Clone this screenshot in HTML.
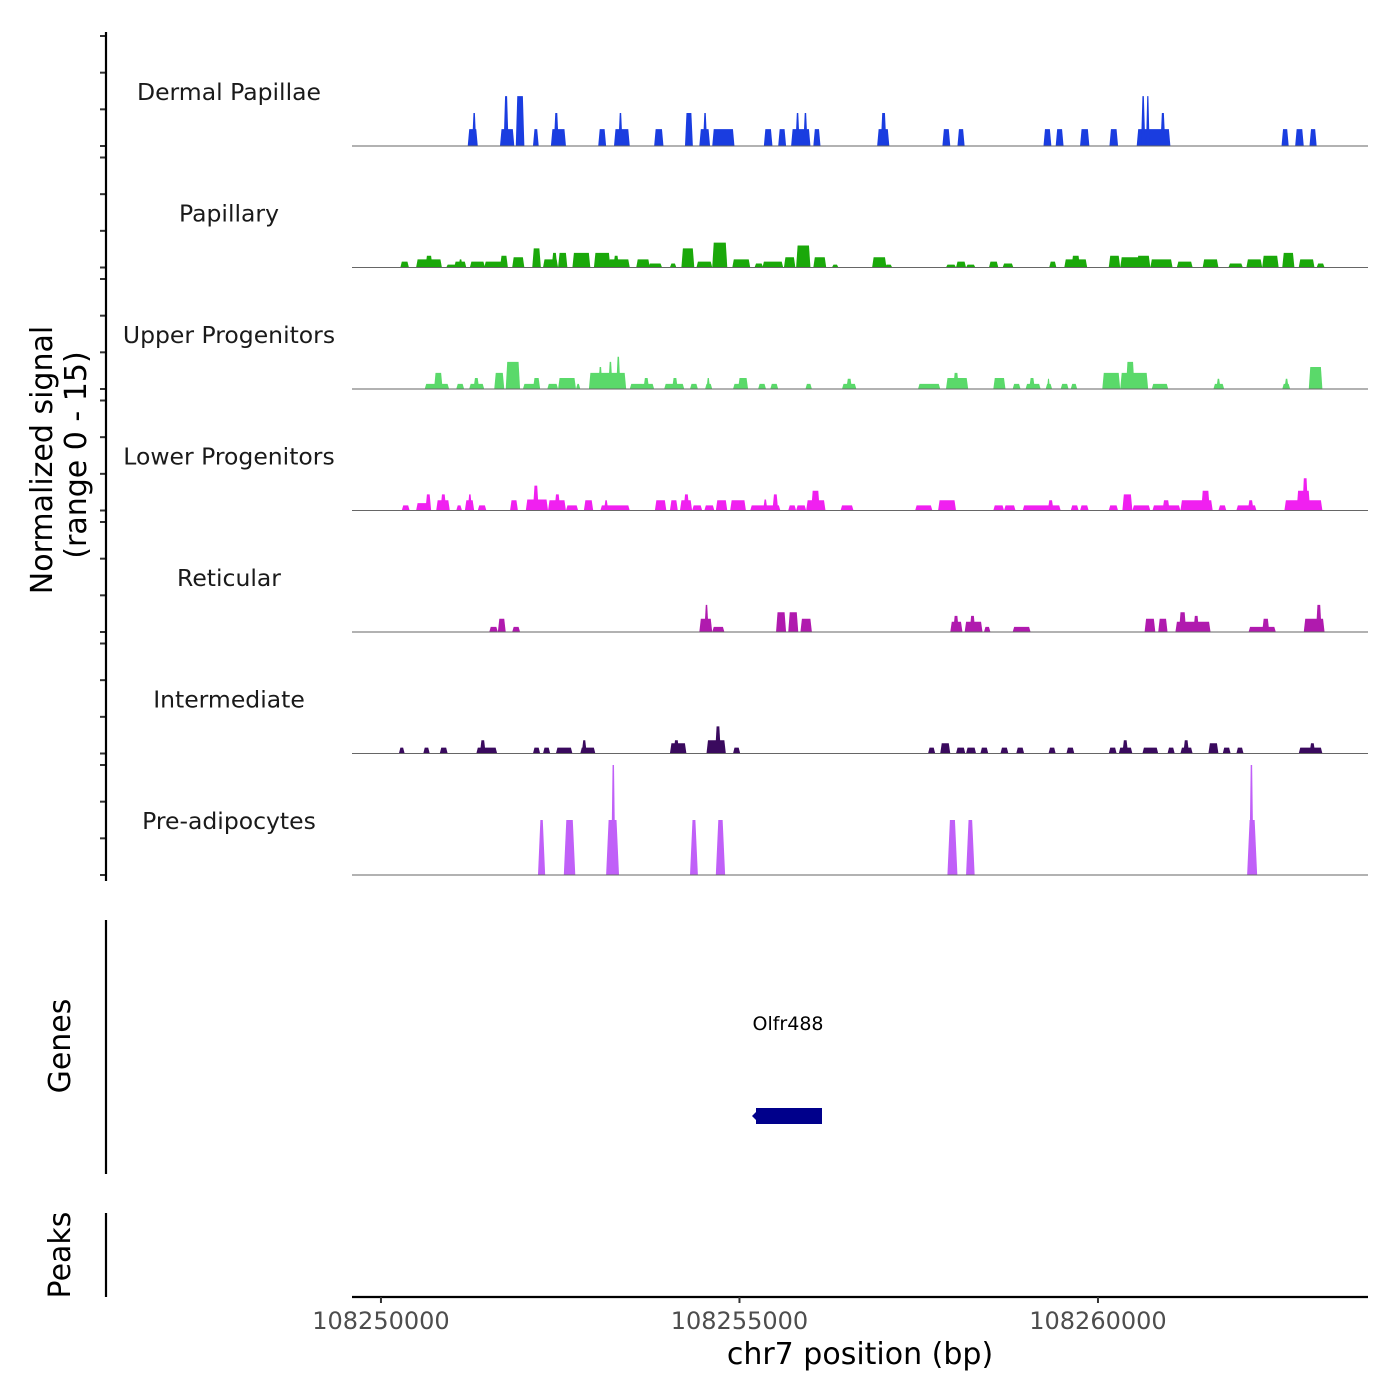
<!DOCTYPE html>
<html><head><meta charset="utf-8"><style>
body{margin:0;background:#fff}
svg{display:block;font-family:"DejaVu Sans","Liberation Sans",sans-serif}
</style></head><body>
<svg id="chart" width="1400" height="1400" viewBox="0 0 1400 1400" xmlns="http://www.w3.org/2000/svg">
<g id="tracks"></g>
<g id="axes"></g>
<text transform="translate(52,460) rotate(-90)" text-anchor="middle" font-size="30" fill="#000">Normalized signal</text>
<text transform="translate(86,455) rotate(-90)" text-anchor="middle" font-size="30" fill="#000">(range 0 - 15)</text>
<line x1="106" y1="920" x2="106" y2="1174" stroke="#000" stroke-width="2.2"/>
<text transform="translate(70,1046) rotate(-90)" text-anchor="middle" font-size="30" fill="#000">Genes</text>
<text x="788" y="1030" text-anchor="middle" font-size="19" fill="#000">Olfr488</text>
<rect x="756" y="1108" width="66" height="16" fill="#00008B"/>
<polygon points="752,1116 757,1111 757,1121" fill="#00008B"/>
<line x1="106" y1="1213" x2="106" y2="1297" stroke="#000" stroke-width="2.2"/>
<text transform="translate(70,1255) rotate(-90)" text-anchor="middle" font-size="30" fill="#000">Peaks</text>
<text x="860" y="1364" text-anchor="middle" font-size="30" fill="#000">chr7 position (bp)</text>
</svg>
<script>
const base = 108250000;
const xDomainKb = [-0.404, 13.766];
const yMax = 15;
const trackNames = ["Dermal Papillae","Papillary","Upper Progenitors","Lower Progenitors","Reticular","Intermediate","Pre-adipocytes"];
const trackColors = ["#1a3de0","#1aa80a","#5ad96a","#f020f0","#b01aae","#3a0a5e","#c060f8"];
const xTicks = [108250000,108255000,108260000];
const yTicks = [0,5,10,15];
// peaks: [startKb, endKb, value]
const dermal = [[1.21,1.35,2.3],[1.27,1.33,4.5],[1.66,1.86,2.3],[1.71,1.78,6.8],[1.88,2.00,6.8],[2.12,2.20,2.3],[2.37,2.58,2.3],[2.41,2.48,4.5],[3.03,3.14,2.3],[3.25,3.47,2.3],[3.31,3.37,4.5],[3.81,3.94,2.3],[4.24,4.35,4.5],[4.44,4.59,2.3],[4.49,4.55,4.5],[4.62,4.93,2.3],[5.34,5.46,2.3],[5.54,5.65,2.3],[5.72,5.99,2.3],[5.78,5.84,4.5],[5.89,5.95,4.5],[6.03,6.13,2.3],[6.92,7.09,2.3],[6.97,7.05,4.5],[7.83,7.94,2.3],[8.04,8.14,2.3],[9.24,9.35,2.3],[9.41,9.52,2.3],[9.75,9.88,2.3],[10.16,10.28,2.3],[10.54,11.01,2.3],[10.60,10.66,6.8],[10.67,10.72,6.8],[10.87,10.94,4.5],[12.56,12.66,2.3],[12.75,12.87,2.3],[12.95,13.05,2.3]];
const papillary = [[0.27,0.39,0.8],[0.49,0.85,1.1],[0.62,0.72,1.6],[0.91,1.07,0.4],[1.02,1.19,0.8],[1.08,1.14,1.1],[1.24,1.45,0.8],[1.44,1.76,0.8],[1.66,1.77,1.6],[1.83,2.00,1.4],[2.11,2.23,2.6],[2.26,2.47,1.1],[2.38,2.46,2.0],[2.47,2.60,2.0],[2.67,2.92,2.0],[2.97,3.20,2.0],[3.17,3.47,1.1],[3.24,3.32,1.6],[3.56,3.75,1.1],[3.73,3.92,0.55],[4.03,4.12,0.55],[4.19,4.37,2.6],[4.40,4.62,0.8],[4.62,4.83,3.4],[4.90,5.15,1.1],[5.21,5.33,0.55],[5.32,5.61,0.8],[5.62,5.78,1.4],[5.79,5.99,3.0],[6.03,6.21,1.4],[6.29,6.38,0.4],[6.85,7.05,1.4],[7.03,7.13,0.4],[7.88,8.02,0.4],[8.02,8.16,0.8],[8.16,8.29,0.4],[8.48,8.61,0.8],[8.67,8.82,0.55],[9.32,9.42,0.8],[9.53,9.85,1.1],[9.63,9.75,1.6],[10.15,10.31,1.6],[10.31,10.62,1.4],[10.54,10.73,1.6],[10.73,11.04,1.1],[11.10,11.32,0.8],[11.46,11.68,1.1],[11.82,12.02,0.55],[12.07,12.29,1.1],[12.29,12.52,1.6],[12.57,12.74,2.0],[12.80,13.02,1.1],[13.05,13.16,0.55]];
const upper = [[0.61,0.95,0.7],[0.74,0.86,2.2],[1.05,1.16,0.7],[1.23,1.44,0.7],[1.29,1.37,1.5],[1.58,1.72,2.2],[1.74,1.94,3.7],[1.98,2.22,0.7],[2.12,2.22,1.5],[2.32,2.47,0.7],[2.47,2.72,1.5],[2.72,2.78,0.7],[2.90,3.42,2.2],[3.03,3.09,3.0],[3.17,3.23,3.7],[3.28,3.34,4.4],[3.47,3.67,0.7],[3.63,3.81,0.7],[3.66,3.74,1.5],[3.95,4.23,0.7],[4.06,4.14,1.5],[4.31,4.42,0.7],[4.52,4.62,0.7],[4.54,4.59,1.5],[4.91,5.05,0.7],[4.98,5.12,1.5],[5.26,5.37,0.7],[5.43,5.54,0.7],[5.92,6.01,0.7],[6.43,6.63,0.7],[6.49,6.57,1.4],[7.49,7.80,0.7],[7.88,8.19,1.5],[7.98,8.06,2.2],[8.54,8.71,1.5],[8.81,8.92,0.7],[8.99,9.20,0.7],[9.04,9.12,1.5],[9.27,9.36,0.7],[9.29,9.33,1.4],[9.48,9.59,0.7],[9.62,9.71,0.7],[10.06,10.31,2.2],[10.31,10.70,2.2],[10.39,10.51,3.7],[10.75,10.98,0.7],[11.61,11.76,0.7],[11.65,11.71,1.4],[12.57,12.68,0.7],[12.60,12.66,1.4],[12.94,13.13,3.0]];
const lower = [[0.29,0.40,0.7],[0.49,0.68,1.0],[0.62,0.70,2.2],[0.77,0.96,1.4],[0.83,0.91,2.2],[1.05,1.13,0.7],[1.17,1.30,1.4],[1.21,1.27,2.2],[1.35,1.47,0.7],[1.80,1.91,1.4],[2.02,2.33,1.5],[2.12,2.20,3.4],[2.33,2.58,1.4],[2.42,2.50,2.2],[2.58,2.75,0.7],[2.83,2.96,1.4],[3.06,3.47,0.7],[3.11,3.17,1.4],[3.82,3.98,1.4],[4.03,4.14,1.4],[4.17,4.34,1.4],[4.22,4.30,2.2],[4.34,4.48,0.7],[4.51,4.65,0.7],[4.67,4.83,1.4],[4.87,5.09,1.4],[5.15,5.57,0.7],[5.33,5.39,1.5],[5.46,5.54,2.2],[5.68,5.79,0.7],[5.79,5.93,0.7],[5.93,6.20,1.4],[6.00,6.12,2.7],[6.41,6.59,0.7],[7.45,7.69,0.7],[7.77,8.02,1.4],[8.54,8.69,0.7],[8.69,8.85,0.7],[8.95,9.48,0.7],[9.30,9.38,1.4],[9.62,9.73,0.7],[9.75,9.87,0.7],[10.15,10.28,0.7],[10.34,10.48,2.2],[10.48,10.73,0.7],[10.76,11.15,0.7],[10.90,11.00,1.4],[11.15,11.60,1.4],[11.44,11.56,2.7],[11.68,11.79,0.7],[11.93,12.21,0.7],[12.09,12.17,1.4],[12.60,13.13,1.4],[12.77,12.96,2.7],[12.85,12.93,4.4]];
const reticular = [[1.51,1.63,0.7],[1.63,1.74,1.8],[1.83,1.94,0.7],[4.44,4.62,1.8],[4.51,4.57,3.7],[4.62,4.79,0.7],[5.51,5.65,2.7],[5.68,5.82,2.7],[5.85,6.01,1.8],[7.94,8.11,1.4],[7.98,8.06,2.2],[8.14,8.39,1.4],[8.21,8.29,2.2],[8.41,8.50,0.7],[8.81,9.06,0.7],[10.65,10.80,1.8],[10.84,10.97,1.8],[11.08,11.57,1.4],[11.13,11.23,2.7],[11.33,11.41,2.2],[12.10,12.48,0.7],[12.29,12.39,1.8],[12.87,13.16,1.8],[13.04,13.12,3.7]];
const intermediate = [[0.25,0.33,0.8],[0.59,0.68,0.8],[0.82,0.93,0.8],[1.33,1.62,0.8],[1.38,1.46,1.8],[2.12,2.22,0.8],[2.26,2.36,0.8],[2.44,2.67,0.8],[2.78,2.99,0.8],[2.80,2.87,1.8],[4.03,4.26,1.4],[4.08,4.16,1.8],[4.54,4.81,1.8],[4.66,4.74,3.7],[4.91,5.01,0.8],[7.63,7.73,0.8],[7.80,7.94,1.4],[8.02,8.15,0.8],[8.16,8.30,0.8],[8.36,8.47,0.8],[8.64,8.75,0.8],[8.86,8.97,0.8],[9.31,9.41,0.8],[9.56,9.67,0.8],[10.15,10.26,0.8],[10.29,10.48,0.8],[10.34,10.42,1.8],[10.62,10.84,0.8],[10.97,11.07,0.8],[11.15,11.32,0.8],[11.19,11.27,1.8],[11.54,11.68,1.4],[11.74,11.85,0.8],[11.93,12.03,0.8],[12.80,13.13,0.8],[12.95,13.03,1.4]];
const preadipocytes = [[2.19,2.29,7.5],[2.55,2.71,7.5],[3.14,3.32,7.5],[3.21,3.27,15],[4.31,4.42,7.5],[4.67,4.80,7.5],[7.90,8.04,7.5],[8.16,8.28,7.5],[12.08,12.22,7.5],[12.11,12.17,15]];
const allTracks = [dermal,papillary,upper,lower,reticular,intermediate,preadipocytes];

const NS = "http://www.w3.org/2000/svg";
const plotL = 352, plotR = 1368;
const trackBase0 = 146, trackStep = 121.5, trackH = 110;
function xScale(kb){ return plotL + (kb - xDomainKb[0]) / (xDomainKb[1]-xDomainKb[0]) * (plotR-plotL); }
function yScale(v, i){ return trackBase0 + i*trackStep - v/yMax*trackH; }
function mk(tag, attrs, parent){ const e=document.createElementNS(NS,tag); for(const k in attrs) e.setAttribute(k,attrs[k]); parent.appendChild(e); return e; }

const tracksG = document.getElementById('tracks');
const axesG = document.getElementById('axes');
allTracks.forEach((peaks, i) => {
  const g = mk('g', {}, tracksG);
  
  
  const b = yScale(0, i);
  peaks.forEach(p => {
    const x1 = xScale(p[0]), x2 = xScale(p[1]), yt = yScale(p[2], i);
    const t = Math.min(i === 6 ? 2.5 : 1.5, (x2-x1)/3);
    const poly = mk('polygon', {points: `${x1},${b} ${x1+t},${yt} ${x2-t},${yt} ${x2},${b}`, fill: trackColors[i]}, g);
    
    
  });
  const bl = mk('line', {x1: plotL, x2: plotR, y1: b, y2: b, stroke: '#666', 'stroke-width': 1}, g);
  
  
  const lab = mk('text', {x: 229, y: b - 46, 'text-anchor': 'middle', 'font-size': 23.5, fill: '#1a1a1a'}, g);
  lab.textContent = trackNames[i];
  
  
  yTicks.forEach(v => {
    const y = yScale(v, i);
    const tk = mk('line', {x1: 100, x2: 106, y1: y, y2: y, stroke: '#333', 'stroke-width': 2}, axesG);
    
    
  });
});
const yl = mk('line', {x1: 106, x2: 106, y1: 32, y2: 881, stroke: '#000', 'stroke-width': 2.2}, axesG);


const xl = mk('line', {x1: plotL, x2: plotR, y1: 1297, y2: 1297, stroke: '#000', 'stroke-width': 2.2}, axesG);


xTicks.forEach(v => {
  const x = xScale((v - base)/1000);
  const tk = mk('line', {x1: x, x2: x, y1: 1297, y2: 1303, stroke: '#333', 'stroke-width': 2}, axesG);
  
  
  const tl = mk('text', {x: x, y: 1329, 'text-anchor': 'middle', 'font-size': 24, fill: '#4d4d4d'}, axesG);
  tl.textContent = String(v);
  
  
});
</script>
</body></html>
